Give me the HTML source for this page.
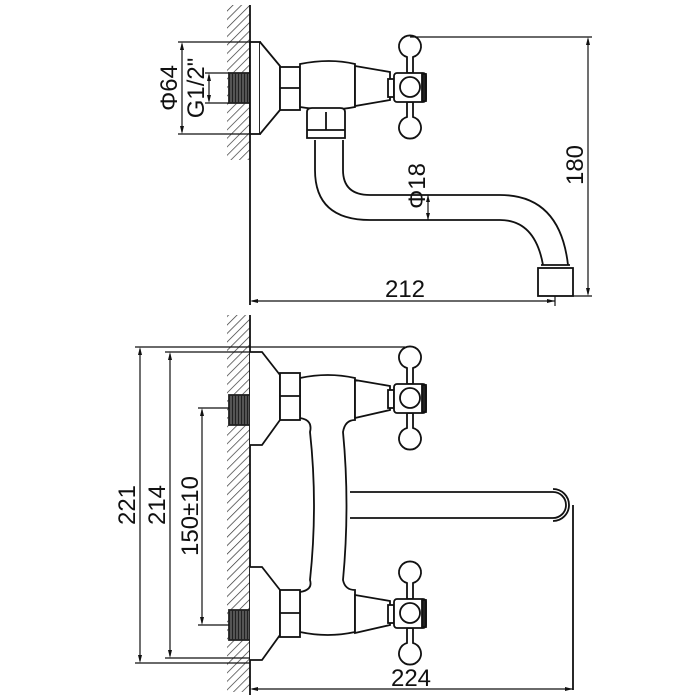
<!DOCTYPE html>
<html><head><style>body{margin:0;background:#fff}svg{display:block}</style></head><body>
<svg width="700" height="700" viewBox="0 0 700 700" xmlns="http://www.w3.org/2000/svg" font-family="Liberation Sans, sans-serif">
<defs>
<pattern id="h" width="6" height="6" patternUnits="userSpaceOnUse" patternTransform="rotate(45)">
<line x1="0" y1="0" x2="0" y2="6" stroke="#333" stroke-width="1.4"/>
</pattern>
<pattern id="t" width="3" height="4" patternUnits="userSpaceOnUse">
<rect width="3" height="4" fill="#555"/><line x1="1.5" y1="0" x2="1.5" y2="4" stroke="#222" stroke-width="1"/>
</pattern>
<g id="hd" fill="#fff" stroke="#111" stroke-width="1.8">
<path d="M-3,-14 L-3,-30 A11,11 0 1 1 3,-30 L3,-14 Z"/>
<path d="M-3,15 L-3,30 A11,11 0 1 0 3,30 L3,15 Z"/>
<rect x="-22" y="-8" width="6" height="18"/>
<rect x="-16" y="-14" width="32" height="29" rx="3"/>
<circle cx="0" cy="0" r="10"/>
<path d="M12,-13 L16,-13 L16,14 L12,14 Z" fill="#222"/>
</g>
</defs>
<g fill="none" stroke="#111" stroke-width="1.8">
<!-- TOP VIEW -->
<rect x="227" y="5" width="23" height="155" fill="url(#h)" stroke="none"/>
<line x1="250" y1="5" x2="250" y2="305"/>
<rect x="229" y="73" width="21" height="30" fill="url(#t)" stroke="#222"/>
<rect x="250" y="42" width="10" height="92" fill="#fff"/>
<path d="M260,42 L280,66 L280,110 L260,134" fill="#fff"/>
<rect x="280" y="67" width="20" height="43" fill="#fff"/>
<line x1="280" y1="88" x2="300" y2="88"/>
<path d="M300,64 Q330,58 355,64 L355,107 Q330,112 300,107 Z" fill="#fff"/>
<path d="M355,66 L390,72 L390,100 L355,106 Z" fill="#fff"/>
<path d="M307,112 Q307,108 312,108 L340,108 Q345,108 345,112 L345,138 L307,138 Z" fill="#fff"/>
<line x1="307" y1="130" x2="345" y2="130"/>
<line x1="326" y1="112" x2="326" y2="130"/>
<path d="M315,140 L315,170 Q315,220 370,220 L500,220 Q535,220 543,265"/>
<path d="M343,140 L343,170 Q343,195 370,195 L500,195 Q560,195 568,265"/>
<line x1="541" y1="265" x2="570" y2="265"/>
<rect x="538" y="268" width="35" height="28" fill="#fff"/>
<use href="#hd" x="410" y="87"/>
<g stroke-width="1.2">
<line x1="178" y1="42" x2="250" y2="42"/><line x1="178" y1="134" x2="250" y2="134"/>
<line x1="182" y1="44" x2="182" y2="132"/>
<line x1="205" y1="73" x2="229" y2="73"/><line x1="205" y1="103" x2="229" y2="103"/>
<line x1="209" y1="75" x2="209" y2="101"/>
<line x1="410" y1="37" x2="592" y2="37"/><line x1="573" y1="296" x2="592" y2="296"/>
<line x1="588" y1="39" x2="588" y2="294"/>
<line x1="252" y1="301" x2="555" y2="301"/><line x1="555" y1="296" x2="555" y2="306"/>
<line x1="428" y1="195" x2="428" y2="220"/>
</g>
<!-- BOTTOM VIEW -->
<rect x="227" y="315" width="23" height="377" fill="url(#h)" stroke="none"/>
<line x1="250" y1="315" x2="250" y2="695"/>
<rect x="229" y="395" width="21" height="30" fill="url(#t)" stroke="#222"/>
<rect x="229" y="610" width="21" height="30" fill="url(#t)" stroke="#222"/>
<path d="M350,492 L553,492 A13,13 0 0 1 553,518 L350,518" fill="#fff"/>
<path d="M553,489 A16,16 0 0 1 553,521"/>
<line x1="573" y1="505" x2="573" y2="690"/>
<path d="M300,378 Q328,372 355,378 L355,420 Q345,420 343,432 Q350,505 343,580 Q345,590 355,590 L355,632 Q328,638 300,632 L300,592 Q313,590 310,580 Q318,505 310,432 Q313,420 300,418 Z" fill="#fff"/>
<path d="M250,352 L262,352 L280,375 L280,420 L262,445 L250,445" fill="#fff"/>
<rect x="280" y="373" width="20" height="47" fill="#fff"/><line x1="280" y1="396" x2="300" y2="396"/>
<path d="M355,380 L390,386 L390,410 L355,418 Z" fill="#fff"/>
<path d="M250,567 L262,567 L280,590 L280,635 L262,660 L250,660" fill="#fff"/>
<rect x="280" y="590" width="20" height="47" fill="#fff"/><line x1="280" y1="613" x2="300" y2="613"/>
<path d="M355,595 L390,601 L390,625 L355,633 Z" fill="#fff"/>
<use href="#hd" x="410" y="398"/>
<use href="#hd" x="410" y="613"/>
<g stroke-width="1.2">
<line x1="135" y1="347" x2="405" y2="347"/><line x1="135" y1="663" x2="250" y2="663"/>
<line x1="140" y1="349" x2="140" y2="661"/>
<line x1="165" y1="352" x2="250" y2="352"/><line x1="165" y1="658" x2="250" y2="658"/>
<line x1="170" y1="354" x2="170" y2="656"/>
<line x1="198" y1="408" x2="229" y2="408"/><line x1="198" y1="625" x2="229" y2="625"/>
<line x1="202" y1="410" x2="202" y2="623"/>
<line x1="252" y1="689" x2="573" y2="689"/>
</g>
</g>
<g fill="#111">
<path d="M182,42 l-2,8 h4z"/><path d="M182,134 l-2,-8 h4z"/>
<path d="M209,73 l-2,8 h4z"/><path d="M209,103 l-2,-8 h4z"/>
<path d="M588,37 l-2,8 h4z"/><path d="M588,296 l-2,-8 h4z"/>
<path d="M250,301 l8,-2 v4z"/><path d="M555,301 l-8,-2 v4z"/>
<path d="M428,195 l-2,7 h4z"/><path d="M428,220 l-2,-7 h4z"/>
<path d="M140,347 l-2,8 h4z"/><path d="M140,663 l-2,-8 h4z"/>
<path d="M170,352 l-2,8 h4z"/><path d="M170,658 l-2,-8 h4z"/>
<path d="M202,408 l-2,8 h4z"/><path d="M202,625 l-2,-8 h4z"/>
<path d="M250,689 l8,-2 v4z"/><path d="M573,689 l-8,-2 v4z"/>
</g>
<g font-size="24" fill="#111">
<text transform="translate(177,88) rotate(-90)" text-anchor="middle">Φ64</text>
<text transform="translate(204,88) rotate(-90)" text-anchor="middle">G1/2"</text>
<text transform="translate(583,165) rotate(-90)" text-anchor="middle">180</text>
<text transform="translate(425,186) rotate(-90)" text-anchor="middle">Φ18</text>
<text x="405" y="297" text-anchor="middle">212</text>
<text transform="translate(135,505) rotate(-90)" text-anchor="middle">221</text>
<text transform="translate(165,505) rotate(-90)" text-anchor="middle">214</text>
<text transform="translate(198,516) rotate(-90)" text-anchor="middle">150±10</text>
<text x="411" y="686" text-anchor="middle">224</text>
</g>
</svg>
</body></html>
